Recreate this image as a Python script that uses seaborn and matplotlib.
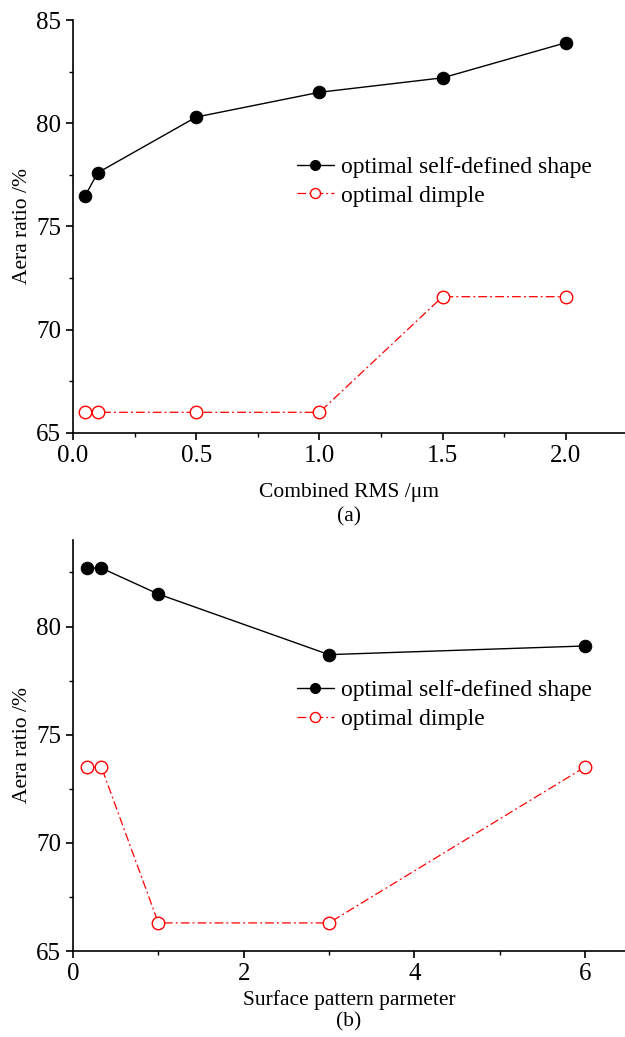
import matplotlib
matplotlib.use("Agg")
import matplotlib.pyplot as plt
from matplotlib.ticker import MultipleLocator
import seaborn as sns
import pandas as pd

# Panel (a): area ratio versus combined RMS roughness
rms_um = [0.05, 0.1, 0.5, 1.0, 1.5, 2.0]
rms_shape = [76.5, 77.6, 80.3, 81.5, 82.2, 83.9]
rms_dimple = [66.0, 66.0, 66.0, 66.0, 71.6, 71.6]

# Panel (b): area ratio versus surface pattern parameter
pattern = [1 / 6, 1 / 3, 1.0, 3.0, 6.0]
pattern_shape = [82.7, 82.7, 81.5, 78.7, 79.1]
pattern_dimple = [73.5, 73.5, 66.3, 66.3, 73.5]

series_names = ["optimal self-defined shape", "optimal dimple"]
ylabel = "Aera ratio /%"

sns.set_theme(style="ticks")
plt.rcParams["font.family"] = ["Liberation Serif", "DejaVu Serif"]
plt.rcParams["axes.linewidth"] = 1.2
plt.rcParams["xtick.major.width"] = 1.2
plt.rcParams["ytick.major.width"] = 1.2
plt.rcParams["xtick.minor.width"] = 1.0
plt.rcParams["ytick.minor.width"] = 1.0
plt.rcParams["xtick.major.size"] = 5
plt.rcParams["ytick.major.size"] = 5
plt.rcParams["xtick.minor.size"] = 3
plt.rcParams["ytick.minor.size"] = 3
for key in ["xtick.color", "ytick.color", "xtick.labelcolor", "ytick.labelcolor",
            "axes.edgecolor", "axes.labelcolor", "text.color"]:
    plt.rcParams[key] = "black"

fig = plt.figure(figsize=(6.25, 10.37), dpi=100)
ax1 = fig.add_axes([0.1168, 0.5825, 0.8832, 0.3982])
ax2 = fig.add_axes([0.1168, 0.0829, 0.8832, 0.3964])

dash_dot = (0, (7, 2.5, 1.5, 2.5))


def draw(ax, x, shape, dimple, legend_y):
    df_s = pd.DataFrame({"x": x, "y": shape})
    df_d = pd.DataFrame({"x": x, "y": dimple})
    sns.lineplot(data=df_s, x="x", y="y", ax=ax, color="black", lw=1.0,
                 marker="o", markersize=9, markerfacecolor="black",
                 markeredgecolor="black", label=series_names[0],
                 estimator=None, sort=False)
    sns.lineplot(data=df_d, x="x", y="y", ax=ax, color="red", lw=0.9,
                 linestyle=dash_dot, marker="o", markersize=9,
                 markerfacecolor="white", markeredgecolor="red",
                 markeredgewidth=1.0, label=series_names[1],
                 estimator=None, sort=False)
    sns.despine(ax=ax)
    ax.set_ylabel(ylabel, fontsize=15.5, labelpad=3)
    ax.tick_params(axis="both", which="both", direction="out", labelsize=18)
    leg = ax.legend(loc="center left", bbox_to_anchor=(0.406, legend_y),
                    frameon=False, fontsize=17, handlelength=1.55,
                    handletextpad=0.3, labelspacing=0.3, borderpad=0,
                    borderaxespad=0, markerscale=0.8)
    for t in leg.get_texts():
        t.set_color("black")


draw(ax1, rms_um, rms_shape, rms_dimple, 0.609)
ax1.set_xlim(0, 2.24)
ax1.set_ylim(65, 85)
ax1.xaxis.set_major_locator(MultipleLocator(0.5))
ax1.xaxis.set_minor_locator(MultipleLocator(0.25))
ax1.yaxis.set_major_locator(MultipleLocator(5))
ax1.yaxis.set_minor_locator(MultipleLocator(2.5))
ax1.set_xticklabels([f"{v:.1f}" for v in ax1.get_xticks()])
ax1.set_xlabel("Combined RMS /\u03bcm\n(a)", fontsize=15.5, labelpad=12, linespacing=1.35)

draw(ax2, pattern, pattern_shape, pattern_dimple, 0.5985)
ax2.set_xlim(0, 6.47)
ax2.set_ylim(65, 84)
ax2.xaxis.set_major_locator(MultipleLocator(2))
ax2.xaxis.set_minor_locator(MultipleLocator(1))
ax2.yaxis.set_major_locator(MultipleLocator(5))
ax2.yaxis.set_minor_locator(MultipleLocator(2.5))
ax2.set_xlabel("Surface pattern parmeter\n(b)", fontsize=15.5, labelpad=4, linespacing=1.15)

fig.savefig("out.png", dpi=100)
